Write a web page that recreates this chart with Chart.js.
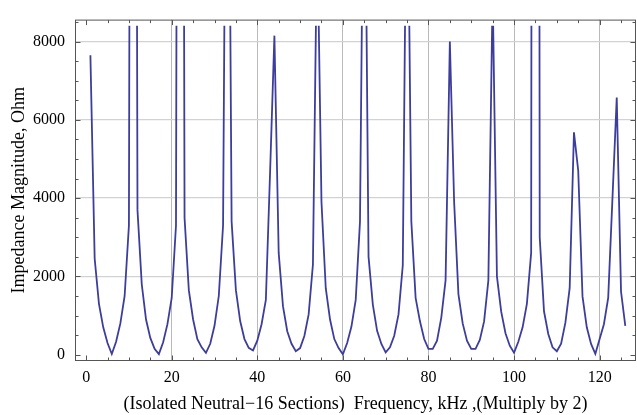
<!DOCTYPE html>
<html>
<head>
<meta charset="utf-8">
<script src="https://cdn.jsdelivr.net/npm/chart.js@4.4.1/dist/chart.umd.min.js"></script>
<style>
  html, body { margin: 0; padding: 0; background: #fff; }
  #chart { display: block; }
</style>
</head>
<body>
<canvas id="chart" width="637" height="415"></canvas>
<script>
// frequency samples (kHz / 2)
const freq = [
  1, 2, 3, 4, 5, 6, 7, 8, 9, 10,
  11, 12, 13, 14, 15, 16, 17, 18, 19, 20,
  21, 22, 23, 24, 25, 26, 27, 28, 29, 30,
  31, 32, 33, 34, 35, 36, 37, 38, 39, 40,
  41, 42, 43, 44, 45, 46, 47, 48, 49, 50,
  51, 52, 53, 54, 55, 56, 57, 58, 59, 60,
  61, 62, 63, 64, 65, 66, 67, 68, 69, 70,
  71, 72, 73, 74, 75, 76, 77, 78, 79, 80,
  81, 82, 83, 84, 85, 86, 87, 88, 89, 90,
  91, 92, 93, 94, 95, 96, 97, 98, 99, 100,
  101, 102, 103, 104, 105, 106, 107, 108, 109, 110,
  111, 112, 113, 114, 115, 116, 117, 118, 119, 120,
  121, 122, 123, 124, 125, 126
]

// |Z| in ohm, resonances run far past the plot range
const impedance = [
  7650, 2450, 1300, 700, 300, 20, 330, 800, 1500, 3300,
  50000, 3700, 1800, 900, 430, 150, 15, 320, 780, 1450,
  3300, 50000, 3500, 1650, 900, 400, 190, 50, 280, 740,
  1500, 3300, 20000, 3400, 1650, 860, 400, 175, 110, 360,
  780, 1400, 4700, 8150, 2600, 1240, 600, 280, 90, 170,
  480, 1030, 2300, 11000, 3900, 1700, 900, 400, 170, 10,
  300, 720, 1400, 3400, 15000, 2500, 1280, 610, 276, 60,
  190, 485, 1030, 2285, 14000, 3400, 1450, 860, 400, 150,
  150, 360, 950, 1900, 8000, 3900, 1550, 800, 360, 150,
  150, 380, 850, 1900, 9300, 2000, 1100, 550, 230, 50,
  330, 700, 1300, 2600, 100000, 3000, 1110, 530, 190, 90,
  280, 820, 1700, 5680, 4700, 1490, 700, 276, 25, 400,
  780, 1450, 4000, 6570, 1615, 740
]

const xTicks = [0, 20, 40, 60, 80, 100, 120]
const yTicks = [0, 2000, 4000, 6000, 8000]
const xMinor = [0, 5, 10, 15, 20, 25, 30, 35, 40, 45, 50, 55, 60, 65, 70, 75, 80, 85, 90, 95, 100, 105, 110, 115, 120, 125]
const yMinor = [0, 500, 1000, 1500, 2000, 2500, 3000, 3500, 4000, 4500, 5000, 5500, 6000, 6500, 7000, 7500, 8000, 8500]
const yCut = 8400

const serif = 'Liberation Serif, Times New Roman, serif'

// cut the curve at the top of the plot range
const rangeClip = {
  id: 'rangeClip',
  beforeDatasetsDraw(chart) {
    const { ctx, chartArea } = chart
    const top = chart.scales.y.getPixelForValue(yCut)
    ctx.save()
    ctx.beginPath()
    ctx.rect(chartArea.left, top, chartArea.right - chartArea.left, chartArea.bottom - top)
    ctx.clip()
  },
  afterDatasetsDraw(chart) {
    chart.ctx.restore()
  }
}

// frame with inward ticks on all four sides
const frame = {
  id: 'frame',
  afterDraw(chart) {
    const { ctx, chartArea: a, scales } = chart
    const l = a.left + 0.5, r = a.right - 0.5, t = a.top + 0.5, b = a.bottom - 0.5
    ctx.save()
    ctx.strokeStyle = '#555'
    ctx.lineWidth = 1
    ctx.strokeRect(l, t, r - l, b - t)
    ctx.beginPath()
    xMinor.forEach(v => {
      const x = Math.round(scales.x.getPixelForValue(v)) + 0.5
      const len = xTicks.includes(v) ? 5 : 3
      ctx.moveTo(x, b); ctx.lineTo(x, b - len)
      ctx.moveTo(x, t); ctx.lineTo(x, t + len)
    })
    yMinor.forEach(v => {
      const y = Math.round(scales.y.getPixelForValue(v)) + 0.5
      const len = yTicks.includes(v) ? 5 : 3
      ctx.moveTo(l, y); ctx.lineTo(l + len, y)
      ctx.moveTo(r, y); ctx.lineTo(r - len, y)
    })
    ctx.stroke()
    ctx.restore()
  }
}

new Chart(document.getElementById('chart'), {
  type: 'line',
  data: {
    datasets: [{
      data: freq.map((f, i) => ({ x: f, y: impedance[i] })),
      borderColor: '#3d3d9c',
      borderWidth: 1.8,
      pointRadius: 0,
      tension: 0,
      fill: false
    }]
  },
  options: {
    responsive: false,
    animation: false,
    devicePixelRatio: 1,
    layout: { padding: { top: 14, right: 1, left: 0, bottom: 0 } },
    plugins: { legend: { display: false }, tooltip: { enabled: false } },
    scales: {
      x: {
        type: 'linear',
        min: -2.6,
        max: 128.5,
        afterBuildTicks(scale) { scale.ticks = xTicks.map(v => ({ value: v })) },
        afterFit(scale) { scale.height = 54 },
        grid: {
          drawTicks: false,
          color: ctx => ctx.tick && ctx.tick.value === 0 ? 'rgba(0,0,0,0)' : '#b9b9b9',
          lineWidth: 1
        },
        border: { display: false },
        ticks: {
          color: '#000',
          padding: 7,
          maxRotation: 0,
          font: { family: serif, size: 16 },
          callback: v => String(v)
        },
        title: {
          display: true,
          text: '(Isolated Neutral\u221216 Sections)  Frequency, kHz ,(Multiply by 2)',
          color: '#000',
          font: { family: serif, size: 18 },
          padding: { top: 0, bottom: 0 }
        }
      },
      y: {
        type: 'linear',
        min: -160,
        max: 8560,
        afterBuildTicks(scale) { scale.ticks = yTicks.map(v => ({ value: v })) },
        afterFit(scale) { scale.width = 75 },
        grid: {
          drawTicks: false,
          color: ctx => ctx.tick && ctx.tick.value === 0 ? 'rgba(0,0,0,0)' : '#d2d2d2',
          lineWidth: 1.3
        },
        border: { display: false },
        ticks: {
          color: '#000',
          padding: 10,
          font: { family: serif, size: 16 },
          callback: v => String(v)
        },
        title: {
          display: true,
          text: 'Impedance Magnitude, Ohm',
          color: '#000',
          font: { family: serif, size: 18 },
          padding: { top: 8, bottom: 0 }
        }
      }
    }
  },
  plugins: [rangeClip, frame]
})
</script>
</body>
</html>
